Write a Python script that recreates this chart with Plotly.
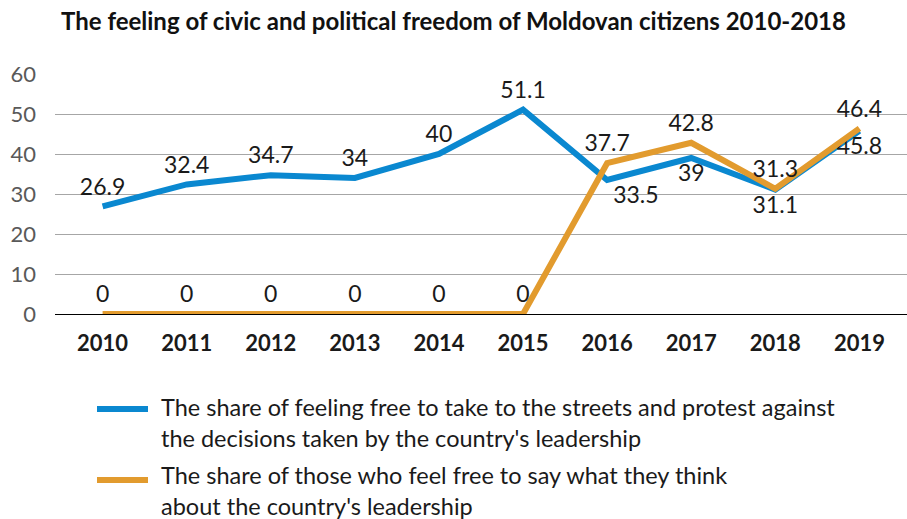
import plotly.graph_objects as go

years = ["2010", "2011", "2012", "2013", "2014", "2015", "2016", "2017", "2018", "2019"]
protest = [26.9, 32.4, 34.7, 34, 40, 51.1, 33.5, 39, 31.1, 45.8]
speak = [0, 0, 0, 0, 0, 0, 37.7, 42.8, 31.3, 46.4]
protest_pos = ["top center"] * 6 + ["bottom right", "bottom center", "bottom center", "bottom center"]
speak_pos = ["top center"] * 10

name_protest = "The share of feeling free to take to the streets and protest against<br>the decisions taken by the country's leadership"
name_speak = "The share of those who feel free to say what they think<br>about the country's leadership"

BLUE = "#0a88d0"
ORANGE = "#e29b2e"
FONT = "Lato, 'Open Sans', sans-serif"

fig = go.Figure()
fig.add_trace(go.Scatter(
    x=years, y=protest, name=name_protest,
    mode="lines+markers+text", text=[str(v) for v in protest],
    textposition=protest_pos,
    textfont=dict(family=FONT, size=23, color="#1a1a1a"),
    line=dict(color=BLUE, width=6),
    marker=dict(size=8, opacity=0, color=BLUE),
    cliponaxis=False, showlegend=False,
))
fig.add_trace(go.Scatter(
    x=years, y=speak, name=name_speak,
    mode="lines+markers+text", text=[str(v) for v in speak],
    textposition=speak_pos,
    textfont=dict(family=FONT, size=23, color="#1a1a1a"),
    line=dict(color=ORANGE, width=6),
    marker=dict(size=8, opacity=0, color=ORANGE),
    cliponaxis=False, showlegend=False,
))

# custom legend (paper coordinates)
H_PLOT = 240.0
W_PLOT = 852.0
def py(px):  # pixel y from top -> paper y
    return (314 - px) / H_PLOT
def pxx(px):
    return (px - 55) / W_PLOT

legend_items = [(name_protest, BLUE, 409, 422), (name_speak, ORANGE, 480, 490)]
for name, col, ly, ty in legend_items:
    fig.add_shape(type="line", xref="paper", yref="paper",
                  x0=pxx(97), x1=pxx(148), y0=py(ly), y1=py(ly),
                  line=dict(color=col, width=6))
    fig.add_annotation(xref="paper", yref="paper", x=pxx(159), y=py(ty),
                       xanchor="left", yanchor="middle", align="left",
                       text=name, showarrow=False,
                       font=dict(family=FONT, size=23.5, color="#1a1a1a"))

fig.update_layout(
    width=907, height=519,
    margin=dict(l=55, r=0, t=74, b=205, autoexpand=False),
    paper_bgcolor="white", plot_bgcolor="white",
    font=dict(family=FONT, color="#1a1a1a"),
    title=dict(text="<b>The feeling of civic and political freedom of Moldovan citizens 2010-2018</b>",
               x=0.5, xanchor="center", y=1 - 22 / 519, yanchor="middle",
               font=dict(family=FONT, size=24, color="#111111")),
    xaxis=dict(type="category", showgrid=False, showline=True, linecolor="#000000", linewidth=1,
               ticks="", tickfont=dict(family=FONT, size=22, color="#1a1a1a"),
               tickprefix="<b>", ticksuffix="</b>", ticklabelstandoff=10),
    yaxis=dict(range=[0, 60], dtick=10, showgrid=True, gridcolor="#a6a6a6", gridwidth=1,
               zeroline=False, showline=False, ticks="",
               tickfont=dict(family=FONT, size=22, color="#595959"), ticklabelstandoff=18),
    showlegend=False,
)

fig.write_html("out.html", config={"displayModeBar": False},
               post_script="document.body.style.margin='0';document.body.style.overflow='hidden';")
